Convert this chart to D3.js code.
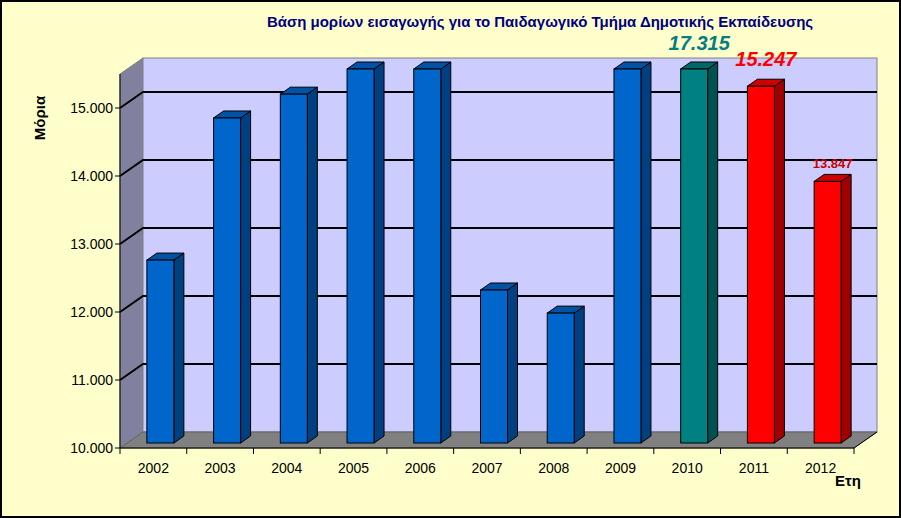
<!DOCTYPE html>
<html><head><meta charset="utf-8">
<script src="https://cdn.jsdelivr.net/npm/d3@7"></script>
<style>body{margin:0;background:#fff}</style></head>
<body><svg id="c" width="901" height="518"></svg>
<script>
const years = ["2002","2003","2004","2005","2006","2007","2008","2009","2010","2011","2012"];
const values = [12.69, 14.78, 15.13, 15.5, 15.5, 12.25, 11.91, 15.5, 17.315, 15.247, 13.847];
const barColors = ["#0066CC","#0066CC","#0066CC","#0066CC","#0066CC","#0066CC","#0066CC","#0066CC","#008080","#FF0000","#FF0000"];
const yTicks = [10, 11, 12, 13, 14, 15];
const title = "Βάση μορίων  εισαγωγής  για  το Παιδαγωγικό  Τμήμα  Δημοτικής Εκπαίδευσης";

const svg = d3.select("#c");
svg.append("rect").attr("x",1).attr("y",1).attr("width",899).attr("height",516).attr("fill","#FFFFCC").attr("stroke","#000").attr("stroke-width",2);

const x0 = 120, x1 = 854, DX = 23, DY = -16;
const y = d3.scaleLinear().domain([10, 15.5]).range([448, 74]);
const yb = d3.scaleLinear().domain([10, 15.5]).range([443, 69]); // bar front plane
const x = d3.scaleBand().domain(years).range([x0, x1]);

const shade = (c,k)=>d3.color(c).darker(k).formatHex();
// left wall
svg.append("polygon").attr("points",[[x0,y(10)],[x0,y(15.5)],[x0+DX,y(15.5)+DY],[x0+DX,y(10)+DY]].join(" "))
  .attr("fill","#80809F").attr("stroke","#808080");
// back wall
svg.append("rect").attr("x",x0+DX).attr("y",y(15.5)+DY).attr("width",x1-x0).attr("height",y(10)-y(15.5))
  .attr("fill","#CCCCFF").attr("stroke","#808080");
// floor
svg.append("polygon").attr("points",[[x0,y(10)],[x1,y(10)],[x1+DX,y(10)+DY],[x0+DX,y(10)+DY]].join(" "))
  .attr("fill","#808080").attr("stroke","#606060");
// gridlines
yTicks.slice(1).forEach(t=>{
  svg.append("polyline").attr("points",[[x0,y(t)],[x0+DX,y(t)+DY],[x1+DX,y(t)+DY]].join(" "))
    .attr("fill","none").attr("stroke","#000").attr("stroke-width",2);
});
// axes
svg.append("line").attr("x1",x0).attr("x2",x0).attr("y1",y(10)).attr("y2",y(15.5)).attr("stroke","#000");
svg.append("line").attr("x1",x0).attr("x2",x1).attr("y1",y(10)).attr("y2",y(10)).attr("stroke","#000");
svg.append("line").attr("x1",x1).attr("x2",x1+DX).attr("y1",y(10)).attr("y2",y(10)+DY).attr("stroke","#000");
yTicks.forEach(t=>{
  svg.append("line").attr("x1",x0-5).attr("x2",x0).attr("y1",y(t)).attr("y2",y(t)).attr("stroke","#000");
  svg.append("text").attr("x",x0-7).attr("y",y(t)+5).attr("text-anchor","end")
    .attr("font-family","Liberation Sans, Arial").attr("font-size",14).text(d3.format(".3f")(t).replace(".","."));
});
d3.range(years.length+1).forEach(i=>{
  const xx = x0 + i*x.step();
  svg.append("line").attr("x1",xx).attr("x2",xx).attr("y1",y(10)).attr("y2",y(10)+6).attr("stroke","#000");
});
years.forEach(yr=>{
  svg.append("text").attr("x",x(yr)+x.bandwidth()/2).attr("y",y(10)+25).attr("text-anchor","middle")
    .attr("font-family","Liberation Sans, Arial").attr("font-size",14).text(yr);
});
// bars
const bw = 27, bd = 10, bdy = -7;
years.forEach((yr,i)=>{
  const v = Math.min(values[i],15.5);
  const bx = x(yr)+x.bandwidth()/2 - bw/2 + 7;
  const top = yb(v), bot = yb(10), c = barColors[i];
  const g = svg.append("g").attr("stroke","#000").attr("stroke-width",1);
  g.append("polygon").attr("points",[[bx+bw,bot],[bx+bw,top],[bx+bw+bd,top+bdy],[bx+bw+bd,bot+bdy]].join(" ")).attr("fill",shade(c,1.3));
  g.append("polygon").attr("points",[[bx,top],[bx+bw,top],[bx+bw+bd,top+bdy],[bx+bd,top+bdy]].join(" ")).attr("fill",shade(c,0.6));
  g.append("rect").attr("x",bx).attr("y",top).attr("width",bw).attr("height",bot-top).attr("fill",c);
});
// labels
const lab = (i,txt,col,fs,dy,italic)=>svg.append("text").attr("x",x(years[i])+x.bandwidth()/2+12).attr("y",dy)
  .attr("text-anchor","middle").attr("font-family","Liberation Sans, Arial").attr("font-weight","bold")
  .attr("font-style",italic?"italic":"normal").attr("font-size",fs).attr("fill",col).text(txt);
lab(8,"17.315","#008080",20,50,true);
lab(9,"15.247","#FF0000",20,66,true);
lab(10,"13.847","#CC0000",13,168,false);

svg.append("text").attr("x",540).attr("y",27).attr("text-anchor","middle").attr("font-family","Liberation Sans, Arial")
  .attr("font-weight","bold").attr("font-size",15).attr("fill","#000080").text(title);
svg.append("text").attr("transform","translate(45,118) rotate(-90)").attr("text-anchor","middle")
  .attr("font-family","Liberation Sans, Arial").attr("font-weight","bold").attr("font-size",15).text("Μόρια");
svg.append("text").attr("x",848).attr("y",486).attr("text-anchor","middle")
  .attr("font-family","Liberation Sans, Arial").attr("font-weight","bold").attr("font-size",15).text("Ετη");
</script></body></html>
